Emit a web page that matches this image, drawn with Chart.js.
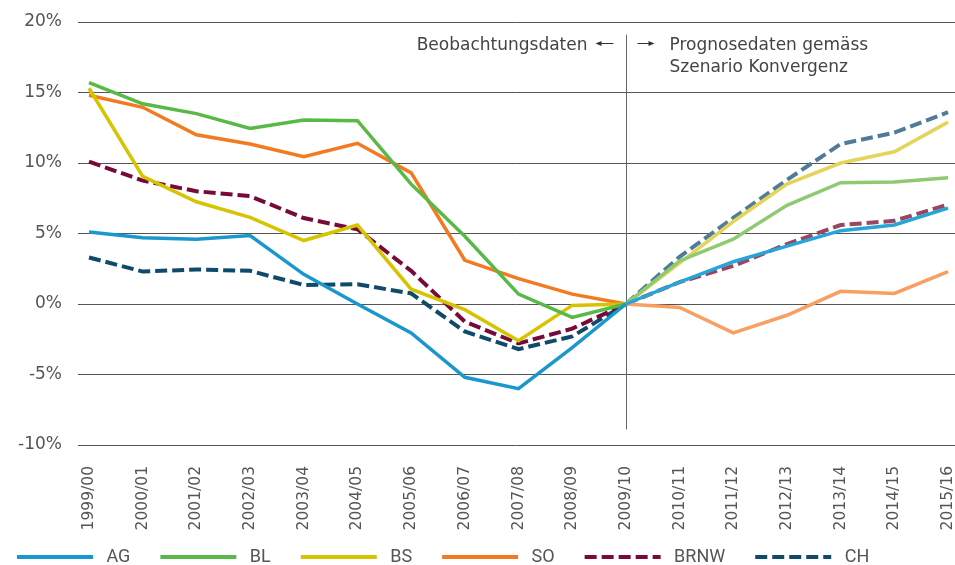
<!DOCTYPE html>
<html><head><meta charset="utf-8">
<script src="https://cdn.jsdelivr.net/npm/chart.js@4"></script>
<style>html,body{margin:0;padding:0;background:#fff}</style>
</head><body>
<canvas id="c" width="955" height="565" style="width:955px;height:565px;display:block"></canvas>
<script>
const categories = ['1999/00','2000/01','2001/02','2002/03','2003/04','2004/05','2005/06','2006/07','2007/08','2008/09','2009/10','2010/11','2011/12','2012/13','2013/14','2014/15','2015/16'];
const seriesNames = ['AG','BL','BS','SO','BRNW','CH'];
const AG   = [5.1, 4.7, 4.6, 4.85, 2.1, 0.0, -2.05, -5.2, -6.0, -3.1, 0, 1.55, 3.0, 4.1, 5.2, 5.6, 6.8];
const BL   = [15.7, 14.2, 13.5, 12.45, 13.05, 13.0, 8.5, 4.8, 0.7, -0.95, 0, 3.05, 4.6, 7.0, 8.6, 8.65, 8.95];
const BS   = [15.3, 9.05, 7.25, 6.15, 4.5, 5.6, 1.05, -0.4, -2.6, -0.1, 0, 2.9, 5.85, 8.5, 10.0, 10.8, 12.9];
const SO   = [14.8, 13.95, 12.0, 11.35, 10.45, 11.4, 9.3, 3.1, 1.8, 0.7, 0, -0.25, -2.05, -0.8, 0.9, 0.75, 2.3];
const BRNW = [10.1, 8.75, 8.0, 7.65, 6.1, 5.3, 2.35, -1.25, -2.8, -1.75, 0, 1.55, 2.7, 4.25, 5.6, 5.9, 7.05];
const CH   = [3.3, 2.3, 2.45, 2.35, 1.35, 1.4, 0.75, -1.95, -3.2, -2.3, 0, 3.35, 6.1, 8.8, 11.35, 12.15, 13.6];
const yTickValues = [-10, -5, 0, 5, 10, 15, 20];
const annotLeft = 'Beobachtungsdaten';
const annotRight = ['Prognosedaten gemäss', 'Szenario Konvergenz'];
const splitIndex = 10;

const darkColors  = ['#1a98cd', '#58b947', '#d6c400', '#f37a21', '#780a3a', '#0e4a6a'];
const lightColors = ['#25a5d8', '#8fca72', '#e5d45c', '#f8a062', '#9c4560', '#507c99'];
const dashes = [[], [], [], [], [12, 5], [12, 5]];
const widths = [3.5, 3.5, 3.5, 3.5, 4, 4];
const allSeries = [AG, BL, BS, SO, BRNW, CH];

const datasets = allSeries.map((vals, k) => ({
  label: seriesNames[k],
  data: vals.map((v, i) => ({ x: i, y: v })),
  borderColor: darkColors[k],
  backgroundColor: darkColors[k],
  borderWidth: widths[k],
  borderDash: dashes[k],
  pointRadius: 0,
  tension: 0,
  fill: false,
  segment: {
    borderColor: c => (c.p0DataIndex >= splitIndex ? lightColors[k] : darkColors[k])
  }
}));

const annotPlugin = {
  id: 'annot',
  beforeLayout(chart) {
    const lg = chart.legend;
    if (lg && !lg._fitWrapped) {
      const orig = lg.fit;
      lg.fit = function () { orig.call(this); this.height = 30; };
      lg._fitWrapped = true;
    }
  },
  afterLayout(chart) {
    const lg = chart.legend;
    if (lg) { lg.left -= 13; lg.top = 518; lg.bottom = chart.height; }
  },
  beforeDatasetsDraw(chart) {
    const { ctx, scales: { x, y } } = chart;
    const px = Math.round(x.getPixelForValue(splitIndex)) + 0.5;
    ctx.save();
    ctx.strokeStyle = '#666';
    ctx.lineWidth = 1;
    ctx.beginPath();
    ctx.moveTo(px, y.getPixelForValue(19.1));
    ctx.lineTo(px, y.getPixelForValue(-8.9));
    ctx.stroke();
    ctx.font = '17px "DejaVu Sans"';
    ctx.fillStyle = '#444';
    ctx.textBaseline = 'alphabetic';
    ctx.textAlign = 'right';
    ctx.fillText(annotLeft, px - 39, 50);
    ctx.textAlign = 'left';
    ctx.fillText(annotRight[0], px + 43, 50);
    ctx.fillText(annotRight[1], px + 43, 72);
    const ay = 43.5;
    ctx.strokeStyle = '#333';
    ctx.fillStyle = '#333';
    ctx.lineWidth = 1;
    ctx.beginPath(); ctx.moveTo(px - 29, ay); ctx.lineTo(px - 13, ay); ctx.stroke();
    ctx.beginPath(); ctx.moveTo(px - 31, ay); ctx.lineTo(px - 25, ay - 2.5); ctx.lineTo(px - 25, ay + 2.5); ctx.closePath(); ctx.fill();
    ctx.beginPath(); ctx.moveTo(px + 11, ay); ctx.lineTo(px + 25, ay); ctx.stroke();
    ctx.beginPath(); ctx.moveTo(px + 28, ay); ctx.lineTo(px + 22, ay - 2.5); ctx.lineTo(px + 22, ay + 2.5); ctx.closePath(); ctx.fill();
    ctx.restore();
  }
};

new Chart(document.getElementById('c'), {
  type: 'line',
  data: { datasets },
  plugins: [annotPlugin],
  options: {
    responsive: false,
    animation: false,
    devicePixelRatio: 1,
    layout: { padding: { top: 22, right: 0, left: 0, bottom: 0 } },
    plugins: {
      tooltip: { enabled: false },
      legend: {
        position: 'bottom',
        align: 'start',
        labels: {
          usePointStyle: true,
          pointStyleWidth: 76,
          boxHeight: 4,
          padding: 30,
          color: '#555',
          font: { family: 'Roboto', size: 18 },
          generateLabels(chart) {
            return chart.data.datasets.map((ds, i) => ({
              text: ' ' + ds.label,
              fillStyle: darkColors[i],
              strokeStyle: darkColors[i],
              lineWidth: 4,
              lineDash: dashes[i],
              pointStyle: 'line',
              hidden: false,
              datasetIndex: i,
              fontColor: '#555'
            }));
          }
        }
      }
    },
    scales: {
      x: {
        type: 'linear',
        min: -0.205,
        max: 16.13,
        grid: { display: false },
        border: { display: false },
        ticks: {
          stepSize: 1,
          includeBounds: false,
          autoSkip: false,
          maxRotation: 90,
          minRotation: 90,
          padding: 13,
          color: '#555',
          font: { family: 'DejaVu Sans', size: 15.5 },
          callback: v => categories[v] !== undefined ? categories[v] : ''
        },
        afterFit(s) { s.height = 90; s.paddingLeft = 0; s.paddingRight = 0; }
      },
      y: {
        min: -10,
        max: 20,
        afterBuildTicks(s) { s.ticks = yTickValues.map(v => ({ value: v })); },
        grid: { color: '#555', lineWidth: 1, drawTicks: false },
        border: { display: false },
        ticks: {
          padding: 16,
          color: '#555',
          font: { family: 'DejaVu Sans', size: 17 },
          callback: v => v + '%'
        },
        afterFit(s) { s.width = 78; s.paddingTop = 0; s.paddingBottom = 0; }
      }
    }
  }
});
</script>
</body></html>
